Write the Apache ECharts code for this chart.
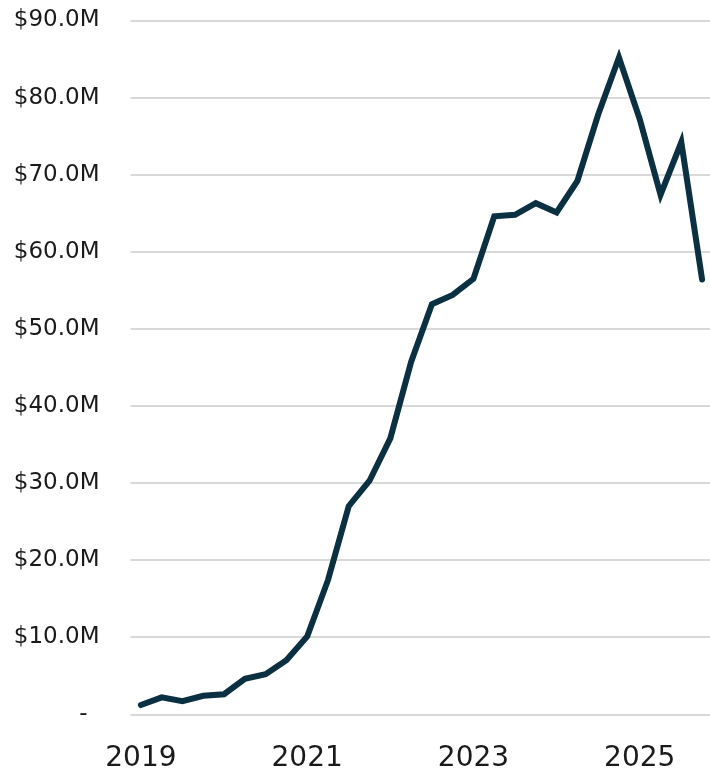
<!DOCTYPE html>
<html>
<head>
<meta charset="utf-8">
<script src="https://cdn.jsdelivr.net/npm/echarts@6/dist/echarts.min.js"></script>
<style>
  html, body { margin: 0; padding: 0; background: #fff; }
  #chart { width: 710px; height: 773px; }
</style>
</head>
<body>
<div id="chart"></div>
<script>
// quarterly periods, 2019 Q1 .. 2025 Q4
const quarters = [
  '2019 Q1', '2019 Q2', '2019 Q3', '2019 Q4',
  '2020 Q1', '2020 Q2', '2020 Q3', '2020 Q4',
  '2021 Q1', '2021 Q2', '2021 Q3', '2021 Q4',
  '2022 Q1', '2022 Q2', '2022 Q3', '2022 Q4',
  '2023 Q1', '2023 Q2', '2023 Q3', '2023 Q4',
  '2024 Q1', '2024 Q2', '2024 Q3', '2024 Q4',
  '2025 Q1', '2025 Q2', '2025 Q3', '2025 Q4',
];
// value in $M
const values = [
  1.2, 2.2, 1.7, 2.4, 2.6, 4.6, 5.2, 7.0,
  10.1, 17.4, 27.0, 30.3, 35.8, 45.7, 53.2, 54.4,
  56.5, 64.6, 64.8, 66.3, 65.1, 69.2, 77.8, 85.2,
  77.2, 67.4, 74.2, 56.4,
];
const yMin = 0;
const yMax = 90;
const yStep = 10;

const chart = echarts.init(document.getElementById('chart'), null, { renderer: 'canvas' });

chart.setOption({
  animation: false,
  backgroundColor: '#ffffff',
  grid: {
    left: 130.5, top: 20.5, right: -2.5, bottom: 58.7,
    containLabel: false, outerBoundsMode: 'none',
  },
  xAxis: {
    type: 'category',
    data: quarters,
    boundaryGap: true,
    axisLine: { show: false },
    axisTick: { show: false },
    axisLabel: {
      interval: 7,
      margin: 30,
      fontFamily: 'DejaVu Sans',
      fontSize: 28,
      color: '#1a1a1a',
      formatter: (v) => v.slice(0, 4),
    },
  },
  yAxis: {
    type: 'value',
    min: yMin,
    max: yMax,
    interval: yStep,
    axisLine: { show: false },
    axisTick: { show: false },
    splitLine: { lineStyle: { color: '#d9d9d9', width: 2 } },
    axisLabel: {
      margin: 31,
      fontFamily: 'DejaVu Sans',
      fontSize: 23,
      color: '#1a1a1a',
      formatter: (v) => (v === 0 ? '{dash|-}' : `$${v.toFixed(1)}M`),
      rich: {
        dash: { fontFamily: 'DejaVu Sans', fontSize: 23, color: '#1a1a1a', padding: [0, 12, 0, 0] },
      },
    },
  },
  series: [
    {
      type: 'line',
      data: values,
      showSymbol: false,
      lineStyle: { width: 6, color: '#0b3042', cap: 'round', join: 'miter' },
    },
  ],
});
</script>
</body>
</html>
